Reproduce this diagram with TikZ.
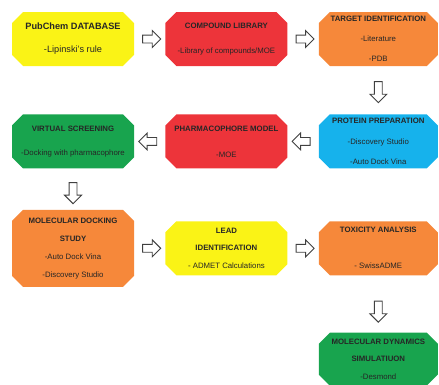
\documentclass[tikz,border=0pt]{standalone}
\usepackage{fontspec}
\setmainfont{Liberation Sans}
\usetikzlibrary{positioning,shapes.misc,shapes.arrows}

\definecolor{cyellow}{RGB}{250,243,22}
\definecolor{cred}{RGB}{237,52,58}
\definecolor{corange}{RGB}{246,136,58}
\definecolor{cgreen}{RGB}{24,164,78}
\definecolor{cblue}{RGB}{22,178,236}

\tikzset{
  box/.style={chamfered rectangle, chamfered rectangle xsep=7.5pt, inner sep=0pt,
    minimum width=122pt, minimum height=54pt, align=center, text=black!85,
    font=\fontsize{7.8}{#1}\selectfont},
  harrow/.style={single arrow, draw=black!75, fill=white, line width=0.9pt,
    inner sep=0pt, text height=7pt, text depth=0pt, text width=0pt,
    minimum height=18pt, single arrow head extend=4.5pt},
  varrow/.style={harrow, shape border rotate=270, text height=0pt, text width=7pt,
    minimum height=21pt}
}

\begin{document}
\begin{tikzpicture}[x=1pt,y=1pt]
            \useasboundingbox (0,0) rectangle (439,-384);
            \node[box=23, fill=cyellow, font=\fontsize{9.2}{23}\selectfont] (pubchem) at (73,-39)
                {\textbf{PubChem DATABASE}\\-Lipinski's rule};
            \node[box=25, fill=cred] (library) [right = 31pt of pubchem]
                {\textbf{COMPOUND LIBRARY}\\-Library of compounds/MOE};
            \node[box=20, fill=corange, minimum width=119pt] (target) [right = 31pt of library]
                {\textbf{TARGET IDENTIFICATION}\\-Literature\\-PDB};
            \node[box=24, fill=cgreen] (screening) [below = 48pt of pubchem]
                {\textbf{VIRTUAL SCREENING}\\-Docking with pharmacophore};
            \node[box=26, fill=cred] (pharma) [below = 48pt of library]
                {\textbf{PHARMACOPHORE MODEL}\\-MOE};
            \node[box=20.5, fill=cblue, minimum width=119pt] (protein) [below = 48pt of target]
                {\textbf{PROTEIN PREPARATION}\\-Discovery Studio\\-Auto Dock Vina};
            \node[box=18, fill=corange, minimum height=77pt] (docking) [below = 41pt of screening]
                {\textbf{MOLECULAR DOCKING}\\\textbf{STUDY}\\-Auto Dock Vina\\-Discovery Studio};
            \node[box=17.5, fill=cyellow] (lead) [right = 31pt of docking]
                {\textbf{LEAD}\\\textbf{IDENTIFICATION}\\- ADMET Calculations};
            \node[box=18, fill=corange, minimum width=119pt] (toxicity) [right = 31pt of lead]
                {\textbf{TOXICITY ANALYSIS}\\ \\- SwissADME};
            \node[box=17.5, fill=cgreen, minimum width=119pt, minimum height=53pt] (md) [below = 57pt of toxicity]
                {\textbf{MOLECULAR DYNAMICS}\\\textbf{SIMULATIUON}\\-Desmond};
            \path (pubchem) -- node[harrow] {} (library)
                  (library) -- node[harrow] {} (target)
                  (target) -- node[varrow] {} (protein)
                  (protein) -- node[harrow, shape border rotate=180] {} (pharma)
                  (pharma) -- node[harrow, shape border rotate=180] {} (screening)
                  (screening) -- node[varrow, pos=0.55] {} (docking)
                  (docking) -- node[harrow] {} (lead)
                  (lead) -- node[harrow] {} (toxicity)
                  (toxicity) -- node[varrow, pos=0.6] {} (md);
        \end{tikzpicture}
\end{document}
